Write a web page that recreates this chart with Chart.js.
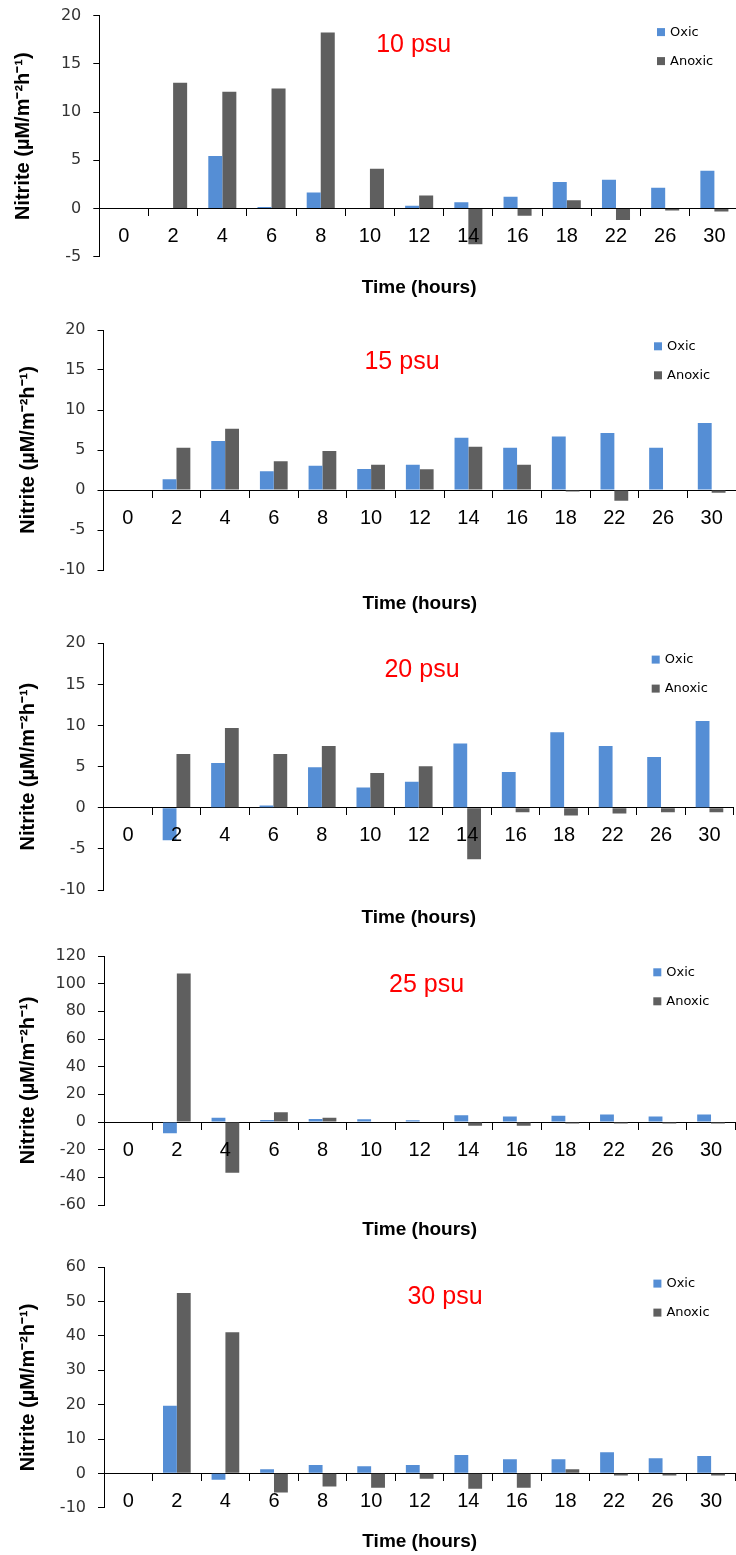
<!DOCTYPE html>
<html>
<head>
<meta charset="utf-8">
<script src="https://cdn.jsdelivr.net/npm/chart.js@4/dist/chart.umd.min.js"></script>
<style>
  html, body { margin: 0; padding: 0; background: #fff; width: 736px; height: 1555px; overflow: hidden; }
  #wrap { position: relative; width: 736px; height: 1555px; overflow: hidden; }
  canvas { position: absolute; left: 0; }
</style>
</head>
<body>
<div id="wrap"></div>
<script>
// ---- data ----
const timeLabels = ['0', '2', '4', '6', '8', '10', '12', '14', '16', '18', '22', '26', '30'];
const panelTitles = ['10 psu', '15 psu', '20 psu', '25 psu', '30 psu'];
const seriesNames = ['Oxic', 'Anoxic'];

const oxic10   = [0, 0, 5.44, 0.15, 1.67, 0, 0.28, 0.66, 1.21, 2.74, 2.98, 2.15, 3.91];
const anoxic10 = [0, 13.04, 12.11, 12.46, 18.27, 4.12, 1.36, -3.7, -0.76, 0.87, -1.2, -0.2, -0.3];

const oxic15   = [0, 1.33, 6.11, 2.33, 3.04, 2.62, 3.16, 6.53, 5.28, 6.69, 7.11, 5.28, 8.36];
const anoxic15 = [0, 5.28, 7.65, 3.58, 4.87, 3.16, 2.58, 5.41, 3.16, -0.2, -1.33, 0, -0.33];

const oxic20   = [0, -3.96, 5.45, 0.28, 4.93, 2.46, 3.15, 7.8, 4.36, 9.17, 7.52, 6.18, 10.55];
const anoxic20 = [0, 6.55, 9.7, 6.55, 7.52, 4.24, 5.05, -6.26, -0.53, -0.93, -0.69, -0.53, -0.53];

const oxic25   = [0, -8.2, 3.1, 1.4, 2.2, 1.9, 1.2, 4.8, 3.9, 4.6, 5.5, 3.9, 5.5];
const anoxic25 = [0, 107.4, -36.7, 7.0, 3.1, 0, 0, -2.7, -2.7, -1, -1, -1, -1];

const oxic30   = [0, 19.7, -1.85, 1.17, 2.44, 2.05, 2.44, 5.37, 4.1, 4.1, 6.15, 4.4, 5.07];
const anoxic30 = [0, 52.5, 41.1, -5.56, -3.8, -4.2, -1.56, -4.5, -4.2, 1.17, -0.59, -0.59, -0.59];

const oxicSeries = [oxic10, oxic15, oxic20, oxic25, oxic30];
const anoxicSeries = [anoxic10, anoxic15, anoxic20, anoxic25, anoxic30];

// y-axis ranges (tick labels)
const yMins  = [-5, -10, -10, -60, -10];
const yMaxs  = [20, 20, 20, 120, 60];
const ySteps = [5, 5, 5, 20, 10];

// ---- layout (pixels, page coordinates) ----
const CANVAS_W = 742;
const panelLayout = [
  { top: 0,    height: 310, left: 99.3,  right: 739,   yTop: 15.8,   yBottom: 256.7,  titleY: 287.8,  psuX: 413.7, psuDy: 29.2 },
  { top: 310,  height: 312, left: 103.5, right: 736,   yTop: 330,    yBottom: 570,    titleY: 604,    psuX: 402,   psuDy: 32 },
  { top: 622,  height: 312, left: 103.8, right: 733.7, yTop: 643.3,  yBottom: 890,    titleY: 917.5,  psuX: 422,   psuDy: 27 },
  { top: 934,  height: 312, left: 104,   right: 735.3, yTop: 956,    yBottom: 1205,   titleY: 1229.7, psuX: 426.6, psuDy: 29 },
  { top: 1246, height: 309, left: 104,   right: 735.4, yTop: 1267.3, yBottom: 1507.7, titleY: 1542,   psuX: 445,   psuDy: 29.4 }
];

const BLUE = '#558ED5';
const GRAY = '#5F5F5F';
const SANS = '"Liberation Sans", Arial, sans-serif';
const TITLE_FONT_SIZE = 19, TITLE_LH = 1.2;
const YTITLE_SIZE = 20;

const overlayPlugin = {
  id: 'overlay',
  afterDatasetsDraw(chart, args, opts) {
    const ctx = chart.ctx;
    const ca = chart.chartArea;
    ctx.save();
    // red panel label
    ctx.font = '25px ' + SANS;
    ctx.fillStyle = '#FF0000';
    ctx.textAlign = 'center';
    ctx.textBaseline = 'middle';
    ctx.fillText(opts.text, opts.x, ca.top + opts.dy);
    // legend
    ctx.font = '13px "DejaVu Sans", sans-serif';
    ctx.textAlign = 'left';
    chart.data.datasets.forEach((ds, i) => {
      const cy = ca.top + 16.3 + i * 29;
      const x0 = ca.right - 82;
      ctx.fillStyle = ds.backgroundColor;
      ctx.fillRect(x0, cy - 4, 8, 8);
      ctx.fillStyle = '#000';
      ctx.fillText(ds.label, x0 + 13, cy + 0.5);
    });
    ctx.restore();
  }
};

const wrap = document.getElementById('wrap');

panelLayout.forEach((L, p) => {
  const cv = document.createElement('canvas');
  cv.width = CANVAS_W;
  cv.height = L.height;
  cv.style.top = L.top + 'px';
  cv.style.width = CANVAS_W + 'px';
  cv.style.height = L.height + 'px';
  wrap.appendChild(cv);

  const lh = TITLE_FONT_SIZE * TITLE_LH;
  const titlePadTop = L.titleY - L.yBottom - lh / 2;
  const padTop = L.yTop - L.top;
  const padBottom = L.height - (L.yBottom - L.top) - (lh + titlePadTop);
  const yTitlePad = L.left - 75.5 - (YTITLE_SIZE * 1.2) / 2;

  new Chart(cv, {
    type: 'bar',
    data: {
      labels: timeLabels,
      datasets: [
        { label: seriesNames[0], data: oxicSeries[p], backgroundColor: BLUE },
        { label: seriesNames[1], data: anoxicSeries[p], backgroundColor: GRAY }
      ]
    },
    options: {
      responsive: false,
      animation: false,
      devicePixelRatio: 1,
      events: [],
      layout: { padding: { top: padTop, bottom: padBottom, left: 0, right: CANVAS_W - L.right } },
      datasets: { bar: { categoryPercentage: 0.57, barPercentage: 1.0 } },
      scales: {
        x: {
          type: 'category',
          position: { y: 0 },
          offset: true,
          grid: { display: true, drawOnChartArea: false, drawTicks: true, tickLength: 7, offset: true, color: '#000' },
          border: { display: true, color: '#000', width: 1 },
          ticks: {
            z: 1,
            autoSkip: false, maxRotation: 0, padding: 9, color: '#000',
            font: { family: SANS, size: 20, lineHeight: 1.2 }
          }
        },
        y: {
          min: yMins[p], max: yMaxs[p],
          ticks: {
            stepSize: ySteps[p], padding: 12, color: '#333',
            font: { family: '"DejaVu Sans", sans-serif', size: 16, lineHeight: 0.4 }
          },
          grid: { display: true, drawOnChartArea: false, drawTicks: true, tickLength: 6, color: '#000' },
          border: { display: true, color: '#000', width: 1 },
          title: {
            display: true,
            text: 'Nitrite (\u00B5M/m\u207B\u00B2h\u207B\u00B9)',
            color: '#000',
            font: { family: SANS, size: YTITLE_SIZE, weight: 'bold', lineHeight: 1.2 },
            padding: { top: yTitlePad, bottom: 0 }
          },
          afterFit(scale) { scale.width = L.left; }
        }
      },
      plugins: {
        legend: { display: false },
        tooltip: { enabled: false },
        title: {
          display: true,
          position: 'bottom',
          fullSize: false,
          text: 'Time (hours)',
          color: '#000',
          font: { family: SANS, size: TITLE_FONT_SIZE, weight: 'bold', lineHeight: TITLE_LH },
          padding: { top: titlePadTop, bottom: 0 }
        },
        overlay: { text: panelTitles[p], x: L.psuX, dy: L.psuDy }
      }
    },
    plugins: [overlayPlugin]
  });
});
</script>
</body>
</html>
